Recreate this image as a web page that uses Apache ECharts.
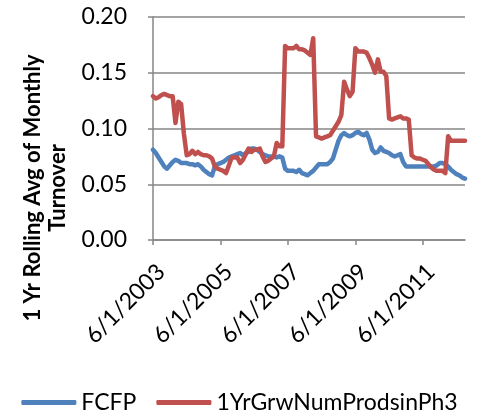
<!DOCTYPE html>
<html>
<head>
<meta charset="utf-8">
<script src="https://cdn.jsdelivr.net/npm/echarts@6/dist/echarts.min.js"></script>
<style>
  html, body { margin: 0; padding: 0; background: #fff; }
  #chart { width: 479px; height: 416px; }
</style>
</head>
<body>
<div id="chart"></div>
<script>
// Monthly observations, June 2003 through September 2012
const startYear = 2003;
const startMonth = 6;
const monthCount = 112;
const categories = [];
for (let i = 0; i < monthCount; i++) {
  const m0 = startMonth - 1 + i;
  const y = startYear + Math.floor(m0 / 12);
  const m = (m0 % 12) + 1;
  categories.push(m + '/1/' + y);
}

const seriesNames = ['FCFP', '1YrGrwNumProdsinPh3'];

const fcfp = [
  0.081, 0.078, 0.074, 0.070, 0.066, 0.064, 0.067, 0.070, 0.072, 0.071,
  0.069, 0.069, 0.069, 0.068, 0.068, 0.067, 0.068, 0.066, 0.063, 0.061,
  0.059, 0.058, 0.066, 0.068, 0.069, 0.070, 0.072, 0.074, 0.075, 0.076,
  0.077, 0.078, 0.076, 0.078, 0.079, 0.082, 0.082, 0.081, 0.079, 0.077,
  0.076, 0.075, 0.075, 0.075, 0.074, 0.075, 0.074, 0.064, 0.062, 0.062,
  0.062, 0.061, 0.063, 0.060, 0.059, 0.058, 0.060, 0.062, 0.065, 0.068,
  0.068, 0.068, 0.068, 0.070, 0.073, 0.081, 0.089, 0.094, 0.096, 0.094,
  0.093, 0.094, 0.096, 0.097, 0.095, 0.094, 0.096, 0.090, 0.081, 0.078,
  0.079, 0.083, 0.080, 0.079, 0.078, 0.076, 0.075, 0.076, 0.077, 0.070,
  0.066, 0.066, 0.066, 0.066, 0.066, 0.066, 0.066, 0.066, 0.066, 0.066,
  0.066, 0.067, 0.069, 0.069, 0.068, 0.066, 0.063, 0.061, 0.059, 0.058,
  0.056, 0.055
];

const grwProds = [
  0.129, 0.127, 0.128, 0.130, 0.131, 0.130, 0.129, 0.129, 0.105, 0.124,
  0.122, 0.095, 0.076, 0.077, 0.080, 0.077, 0.079, 0.077, 0.076, 0.076,
  0.075, 0.073, 0.066, 0.064, 0.063, 0.062, 0.060, 0.067, 0.074, 0.074,
  0.074, 0.069, 0.072, 0.077, 0.082, 0.079, 0.081, 0.081, 0.082, 0.075,
  0.070, 0.071, 0.073, 0.075, 0.087, 0.084, 0.084, 0.174, 0.172, 0.172,
  0.172, 0.174, 0.171, 0.171, 0.170, 0.168, 0.166, 0.181, 0.093, 0.092,
  0.091, 0.092, 0.093, 0.094, 0.098, 0.102, 0.106, 0.112, 0.142, 0.135,
  0.129, 0.133, 0.172, 0.169, 0.169, 0.169, 0.168, 0.163, 0.157, 0.150,
  0.162, 0.151, 0.151, 0.147, 0.109, 0.108, 0.109, 0.110, 0.111, 0.109,
  0.109, 0.108, 0.076, 0.074, 0.073, 0.073, 0.072, 0.071, 0.068, 0.065,
  0.063, 0.062, 0.062, 0.062, 0.060, 0.093, 0.089, 0.089, 0.089, 0.089,
  0.089, 0.089
];

const yAxisTitle = ['1 Yr Rolling Avg of Monthly', 'Turnover'];

const FONT = 'Lato, "Open Sans", sans-serif';
const AXIS_GREY = '#868686';

const chart = echarts.init(document.getElementById('chart'), null, { renderer: 'canvas' });

chart.setOption({
  animation: false,
  color: ['#4F81BD', '#C0504D'],
  textStyle: { fontFamily: FONT },
  grid: { left: 153, right: 14, top: 17, bottom: 176, containLabel: false },
  legend: {
    data: seriesNames.map(n => ({ name: n, icon: 'roundRect' })),
    bottom: -3,
    left: 'center',
    itemWidth: 55,
    itemHeight: 5,
    itemGap: 20,
    textStyle: { fontFamily: FONT, fontSize: 23, color: '#000', padding: [0, 0, 0, 0] }
  },
  xAxis: {
    type: 'category',
    data: categories,
    boundaryGap: false,
    axisLine: { lineStyle: { color: AXIS_GREY, width: 1.5 } },
    axisTick: { show: true, interval: 23, length: 5, lineStyle: { color: AXIS_GREY, width: 1.5 } },
    axisLabel: {
      interval: 23,
      rotate: 45,
      margin: 20,
      verticalAlign: 'top',
      color: '#000',
      fontFamily: FONT,
      fontSize: 23
    },
    splitLine: { show: false }
  },
  yAxis: {
    type: 'value',
    min: 0,
    max: 0.2,
    interval: 0.05,
    axisLine: { show: true, lineStyle: { color: AXIS_GREY, width: 1.5 } },
    axisTick: { show: true, length: 5, lineStyle: { color: AXIS_GREY, width: 1.5 } },
    axisLabel: {
      margin: 26,
      color: '#000',
      fontFamily: FONT,
      fontSize: 23,
      formatter: v => v.toFixed(2)
    },
    splitLine: { show: true, lineStyle: { color: AXIS_GREY, width: 1.5 } }
  },
  graphic: [{
    type: 'text',
    x: 45,
    y: 188,
    rotation: Math.PI / 2,
    style: {
      text: yAxisTitle.join('\n'),
      fontFamily: FONT,
      fontSize: 22,
      fontWeight: 'bold',
      fill: '#000',
      align: 'center',
      verticalAlign: 'middle',
      lineHeight: 25
    }
  }],
  series: [
    {
      name: seriesNames[0],
      type: 'line',
      data: fcfp,
      showSymbol: false,
      lineStyle: { width: 4.5, cap: 'round', join: 'round' },
      z: 3
    },
    {
      name: seriesNames[1],
      type: 'line',
      data: grwProds,
      showSymbol: false,
      lineStyle: { width: 4.5, cap: 'round', join: 'round' },
      z: 4
    }
  ]
});
</script>
</body>
</html>
